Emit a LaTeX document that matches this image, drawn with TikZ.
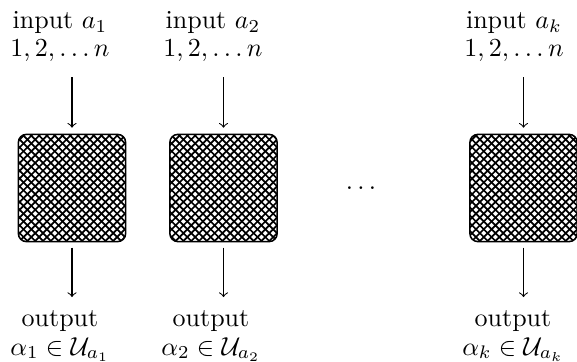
\documentclass[tikz,border=0pt]{standalone}
\usetikzlibrary{patterns}
\pgfdeclarepatternformonly{xhatch}{\pgfqpoint{-1pt}{-1pt}}{\pgfqpoint{4pt}{4pt}}{\pgfqpoint{3pt}{3pt}}{%
  \pgfsetlinewidth{0.65pt}%
  \pgfpathmoveto{\pgfqpoint{3.1pt}{0pt}}\pgfpathlineto{\pgfqpoint{0pt}{3.1pt}}%
  \pgfpathmoveto{\pgfqpoint{0pt}{0pt}}\pgfpathlineto{\pgfqpoint{3.1pt}{3.1pt}}%
  \pgfusepath{stroke}}
\begin{document}
\begin{tikzpicture}[x=0.3846pt,y=-0.3846pt,
  blk/.style={draw,semithick,rounded corners=3pt,pattern=xhatch,
    minimum width=41.2pt,minimum height=41.2pt,inner sep=0pt},
  lbl/.style={align=center,font=\fontsize{10}{11.1}\selectfont},
  arrin/.style={->,shorten <=2.3pt,shorten >=2.3pt},
  arrout/.style={->,shorten <=2pt,shorten >=1.5pt}]
\useasboundingbox (0,0) rectangle (577,362);
% boxes
\node[blk] (b1) at (72,188) {};
\node[blk] (b2) at (223.5,188) {};
\node[blk] (b3) at (523.5,188) {};
\node (dots) at (361,188) {$\ldots$};
% inputs
\node[lbl,anchor=base] (i1) at (60,57) {input $a_1$\\ $1,2,\ldots n$};
\node[lbl,anchor=base] (i2) at (213,57) {input $a_2$\\ $1,2,\ldots n$};
\node[lbl,anchor=base] (i3) at (514,57) {input $a_k$\\ $1,2,\ldots n$};
% outputs
\node[lbl,anchor=base] (o1) at (60,355) {output\\ $\alpha_1\in\mathcal{U}_{a_1}$};
\node[lbl,anchor=base] (o2) at (211,355) {output\\ $\alpha_2\in\mathcal{U}_{a_2}$};
\node[lbl,anchor=base] (o3) at (513,355) {output\\ $\alpha_k\in\mathcal{U}_{a_k}$};
% arrows
\draw[arrin] (i1.south -| b1.north) -- (b1.north);
\draw[arrin] (i2.south -| b2.north) -- (b2.north);
\draw[arrin] (i3.south -| b3.north) -- (b3.north);
\draw[arrout] (b1.south) -- (o1.north -| b1.south);
\draw[arrout] (b2.south) -- (o2.north -| b2.south);
\draw[arrout] (b3.south) -- (o3.north -| b3.south);
\end{tikzpicture}
\end{document}
